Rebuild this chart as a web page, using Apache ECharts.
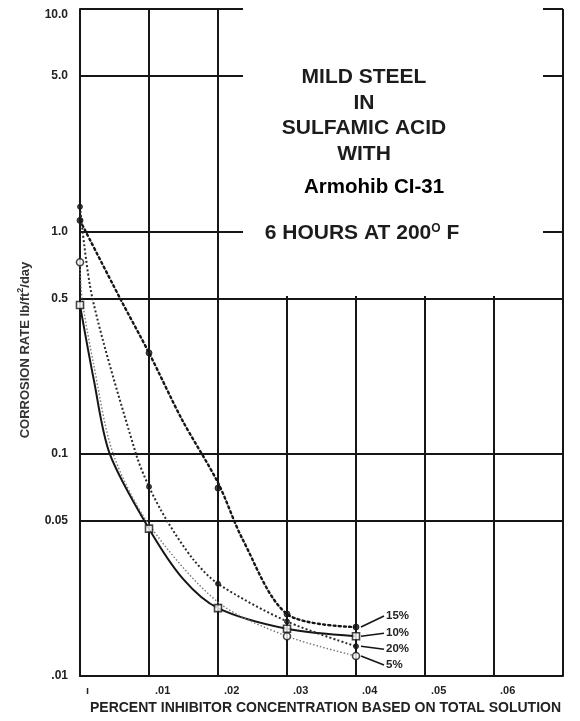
<!DOCTYPE html>
<html>
<head>
<meta charset="utf-8">
<script src="https://cdn.jsdelivr.net/npm/echarts@6/dist/echarts.min.js"></script>
<style>
html,body{margin:0;padding:0;background:#fff;}
#chart{width:580px;height:721px;}
</style>
</head>
<body>
<div id="chart"></div>
<script>
// ---- axis ticks ----
const xTickValues = [0, 0.01, 0.02, 0.03, 0.04, 0.05, 0.06, 0.07];
const xTickLabels = ['ı', '.01', '.02', '.03', '.04', '.05', '.06', ''];
const yGridValues = [10, 5, 1, 0.5, 0.1, 0.05, 0.01];
const yTickLabels = ['10.0', '5.0', '1.0', '0.5', '0.1', '0.05', '.01'];

// ---- series names ----
const seriesNames = ['15%', '10%', '20%', '5%'];

// ---- curves: [concentration, corrosion rate] ----
const curve15 = [[0, 1.12], [0.0058, 0.5], [0.01, 0.284], [0.0148, 0.142], [0.02, 0.074], [0.0236, 0.041], [0.03, 0.019], [0.04, 0.0166]];
const curve10 = [[0, 0.466], [0.002, 0.215], [0.0043, 0.1], [0.01, 0.046], [0.015, 0.0272], [0.02, 0.0202], [0.03, 0.0163], [0.04, 0.0151]];
const curve20 = [[0, 1.29], [0.0018, 0.5], [0.0081, 0.1], [0.01, 0.071], [0.0126, 0.05], [0.0164, 0.0335], [0.02, 0.026], [0.03, 0.0176], [0.04, 0.0136]];
const curve5  = [[0, 0.726], [0.0003, 0.5], [0.002, 0.25], [0.0048, 0.1], [0.01, 0.048], [0.02, 0.0215], [0.03, 0.0151], [0.04, 0.0123]];

// ---- measured points (markers) ----
const points15 = [[0, 1.12], [0.01, 0.284], [0.02, 0.07], [0.03, 0.019], [0.04, 0.0166]];
const points10 = [[0, 0.466], [0.01, 0.046], [0.02, 0.0202], [0.03, 0.0163], [0.04, 0.0151]];
const points20 = [[0, 1.29], [0.01, 0.071], [0.02, 0.026], [0.03, 0.0176], [0.04, 0.0136]];
const points5  = [[0, 0.726], [0.03, 0.0151], [0.04, 0.0123]];

// ---- title block ----
const titleLines = ['MILD STEEL', 'IN', 'SULFAMIC ACID', 'WITH'];
const inhibitorName = 'Armohib CI-31';
const conditionText = '6 HOURS AT 200{s|O} F';
const xAxisTitle = 'PERCENT INHIBITOR CONCENTRATION BASED ON TOTAL SOLUTION';
const yAxisTitle = 'CORROSION RATE lb/ft{s|2}/day';

const INK = '#161616';
const chart = echarts.init(document.getElementById('chart'), null, {renderer: 'canvas'});

function lineSeries(name, data, lineStyle, extra) {
  return Object.assign({
    name: name, type: 'line', data: data, smooth: 0.3,
    showSymbol: false, symbol: 'none', lineStyle: lineStyle, z: 3, silent: true
  }, extra || {});
}
function markerSeries(name, data, symbol, size, filled) {
  return {
    name: name + ' pts', type: 'scatter', data: data, symbol: symbol, symbolSize: size, z: 4, silent: true,
    itemStyle: filled ? {color: INK, borderColor: INK} : {color: '#fff', borderColor: INK, borderWidth: 1.6}
  };
}

const labelFont = {color: '#222', fontWeight: 'bold', fontFamily: 'Liberation Sans'};

const option = {
  animation: false,
  backgroundColor: '#fff',
  grid: {left: 80, right: 17, top: 9, bottom: 45, outerBoundsMode: 'none'},
  xAxis: {
    type: 'value', min: 0, max: 0.07, interval: 0.01,
    axisLine: {show: true, lineStyle: {color: INK, width: 2}},
    axisTick: {show: false},
    splitLine: {show: true, lineStyle: {color: INK, width: 2}},
    axisLabel: Object.assign({
      fontSize: 11, align: 'left', padding: [0, 0, 0, 6], margin: 9,
      formatter: function (v) {
        const i = xTickValues.findIndex(t => Math.abs(t - v) < 1e-9);
        return i >= 0 ? xTickLabels[i] : '';
      }
    }, labelFont),
    name: xAxisTitle, nameLocation: 'middle', nameGap: 25,
    nameTextStyle: Object.assign({fontSize: 14, padding: [0, 0, 0, 8]}, labelFont)
  },
  yAxis: {
    type: 'log', logBase: 10, min: 0.01, max: 10,
    axisLine: {show: true, lineStyle: {color: INK, width: 2}},
    axisTick: {show: false}, axisLabel: {show: false}, splitLine: {show: false}
  },
  series: [
    lineSeries(seriesNames[0], curve15, {color: INK, width: 2.4, type: [2, 3.2], cap: 'round'}, {
      markLine: {
        silent: true, symbol: ['none', 'none'], z: 1,
        lineStyle: {color: INK, width: 2, type: 'solid'},
        label: Object.assign({show: true, position: 'start', distance: 12, formatter: '{b}', fontSize: 12}, labelFont),
        data: yGridValues.map((v, i) => ({yAxis: v, name: yTickLabels[i],
          label: i === 0 ? {offset: [0, 6]} : {}}))
      }
    }),
    lineSeries(seriesNames[1], curve10, {color: INK, width: 2, type: 'solid'}),
    lineSeries(seriesNames[2], curve20, {color: '#2a2a2a', width: 2, type: [2, 2.2]}),
    lineSeries(seriesNames[3], curve5, {color: '#777', width: 1.4, type: [1.5, 2]}),
    markerSeries(seriesNames[0], points15, 'circle', 6, true),
    markerSeries(seriesNames[1], points10, 'rect', 7, false),
    markerSeries(seriesNames[2], points20, 'circle', 5, true),
    markerSeries(seriesNames[3], points5, 'circle', 7, false)
  ]
};
chart.setOption(option);

// ---- annotations ----
const graphics = [];
graphics.push({type: 'rect', shape: {x: 243, y: 0, width: 300, height: 296}, style: {fill: '#fff'}, z: 50, silent: true});
const titleFont = {fontFamily: 'Liberation Sans', fontWeight: 'bold', fontSize: 21, fill: '#1c1c1c'};
const titleY = [77, 103, 128, 154];
titleLines.forEach((t, i) => {
  graphics.push({type: 'text', z: 60, silent: true,
    style: Object.assign({text: t, x: 364, y: titleY[i], align: 'center', verticalAlign: 'middle'}, titleFont)});
});
graphics.push({type: 'text', z: 60, silent: true,
  style: {text: inhibitorName, x: 374, y: 187, align: 'center', verticalAlign: 'middle',
          fontFamily: 'Liberation Sans', fontWeight: 'bold', fontSize: 20.5, fill: '#000'}});
graphics.push({type: 'text', z: 60, silent: true,
  style: Object.assign({text: conditionText, x: 362, y: 233, align: 'center', verticalAlign: 'middle',
    rich: {s: {fontSize: 12, fontWeight: 'bold', fontFamily: 'Liberation Sans', fill: '#1c1c1c', padding: [0, 0, 9, 0]}}}, titleFont)});
graphics.push({type: 'text', z: 60, silent: true, rotation: Math.PI / 2, x: 25, y: 350,
  style: {text: yAxisTitle, x: 0, y: 0, align: 'center', verticalAlign: 'middle',
          fontFamily: 'Liberation Sans', fontWeight: 'bold', fontSize: 13, fill: '#333',
          rich: {s: {fontSize: 9, fontWeight: 'bold', fontFamily: 'Liberation Sans', fill: '#333', padding: [0, 0, 8, 0]}}}});

// series labels at the last measured point with leader lines
const ends = [points15, points10, points20, points5].map(p => p[p.length - 1]);
const dys = [-11, -3, 3, 9];
ends.forEach((pt, i) => {
  const px = chart.convertToPixel({seriesIndex: i + 4}, pt);
  const lx = px[0] + 30, ly = px[1] + dys[i];
  graphics.push({type: 'line', z: 10, silent: true,
    shape: {x1: px[0] + 5, y1: px[1], x2: lx - 2, y2: ly},
    style: {stroke: INK, lineWidth: 1.6}});
  graphics.push({type: 'text', z: 10, silent: true,
    style: {text: seriesNames[i], x: lx, y: ly, align: 'left', verticalAlign: 'middle',
            fontFamily: 'Liberation Sans', fontWeight: 'bold', fontSize: 11.5, fill: '#222'}});
});
chart.setOption({graphic: graphics});
</script>
</body>
</html>
